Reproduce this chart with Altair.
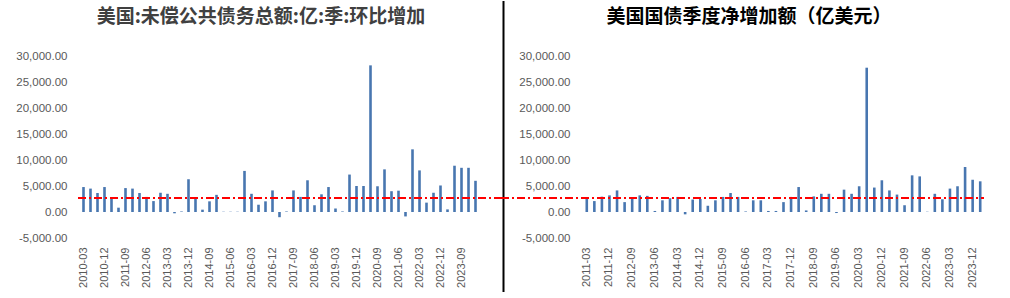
import altair as alt
import pandas as pd

# ---------------- data ----------------
left_title = "美国:未偿公共债务总额:亿:季:环比增加"
right_title = "美国国债季度净增加额（亿美元）"

def quarter_labels(start_year, count):
    out = []
    y, m = start_year, 3
    for _ in range(count):
        out.append(f"{y}-{m:02d}")
        m += 3
        if m > 12:
            m = 3
            y += 1
    return out

left_values = [4800, 4500, 3650, 4800, 2550, 830, 4600, 4500, 3650, 2900,
               2100, 3700, 3500, -250, 100, 6300, 2700, 450, 2050, 3300,
               50, 50, 50, 7900, 3500, 1400, 2050, 4150, -1000, 100,
               4150, 2900, 6100, 1300, 3400, 4800, 650, 100, 7200, 5000,
               5000, 28200, 4950, 8200, 4000, 4100, -850, 12050, 8000, 1800,
               3700, 5100, 500, 8900, 8500, 8500, 6000]
left_periods = quarter_labels(2010, len(left_values))

right_values = [2700, 2100, 2950, 3200, 4150, 1900, 2700, 3200, 3100, 200,
                2250, 2650, 2900, -450, 2400, 2500, 1200, 2250, 2900, 3650,
                2900, 100, 2250, 2250, 200, 200, 1900, 2900, 4800, 300,
                3000, 3500, 3500, -200, 4300, 3500, 4950, 27750, 4700, 6100,
                4150, 3350, 1300, 7050, 6850, 50, 3500, 2450, 4500, 4950,
                8650, 6200, 5900]
right_periods = quarter_labels(2011, len(right_values))

ref_level = [2700]
y_ticks = [-5000, 0, 5000, 10000, 15000, 20000, 25000, 30000]

# ---------------- styling ----------------
H = 182
W_L = 399
W_R = 401
BAR = "#4876B0"
LABEL_FONT = "Liberation Sans"

yscale = alt.Scale(domain=[-5000, 30000], nice=False)


def yaxis():
    return alt.Axis(values=y_ticks,
                    labelExpr="replace(format(datum.value, ',.2f'), '\u2212', '-')",
                    labelFontSize=11.5, labelColor="#595959", labelFont=LABEL_FONT,
                    labelPadding=13, labelOverlap=False, labelFlush=False,
                    labelBound=False,
                    ticks=False, domain=False, grid=False, title=None)


def panel(periods, values, width, title, title_x, title_color,
          red_x1, red_x2, extra_layers):
    df = pd.DataFrame({"period": periods, "value": values})
    shown = periods[0::3]
    bars = alt.Chart(df).mark_bar(size=2.6, color=BAR).encode(
        x=alt.X("period:N", sort=None,
                scale=alt.Scale(paddingInner=0, paddingOuter=0),
                axis=alt.Axis(values=shown, labelAngle=270, labelFontSize=11,
                              labelColor="#595959", labelFont=LABEL_FONT,
                              labelPadding=9, ticks=False, domain=False,
                              grid=False, title=None, labelOverlap=False)),
        y=alt.Y("value:Q", scale=yscale, axis=yaxis()),
    )
    red = alt.Chart(pd.DataFrame({"value": ref_level})).mark_rule(
        color="#FF0000", strokeWidth=2, strokeDash=[8, 3, 2, 3]
    ).encode(
        y=alt.Y("value:Q", scale=yscale, axis=yaxis()),
        x=alt.value(red_x1), x2=alt.value(red_x2),
    )
    ttl = alt.Chart(pd.DataFrame({"t": [title]})).mark_text(
        font="Noto Sans CJK SC", fontSize=19, fontWeight="bold",
        color=title_color, align="center", baseline="middle"
    ).encode(text="t:N", x=alt.value(title_x), y=alt.value(-39))
    return alt.layer(bars, red, ttl, *extra_layers).properties(width=width, height=H)


one = pd.DataFrame({"a": [0]})
divider = alt.Chart(one).mark_rule(color="#000000", strokeWidth=2).encode(
    x=alt.value(423.5), y=alt.value(-55), y2=alt.value(236))
anchor = alt.Chart(one).mark_rule(color="#FFFFFF", strokeWidth=1).encode(
    x=alt.value(-78.7), y=alt.value(0), y2=alt.value(10))

left = panel(left_periods, left_values, W_L, left_title, 181, "#404040",
             -2, 425, [divider, anchor])
right = panel(right_periods, right_values, W_R, right_title, 166, "#000000",
              -82, 401, [])

chart = alt.hconcat(left, right, spacing=104, bounds="flush").properties(
    padding={"left": 0, "top": 0, "right": 2, "bottom": 0},
    background="white",
).configure_view(stroke=None).configure_axisY(labelOverlap=False)

chart.save("out.html", embed_options={"renderer": "svg", "actions": False})
